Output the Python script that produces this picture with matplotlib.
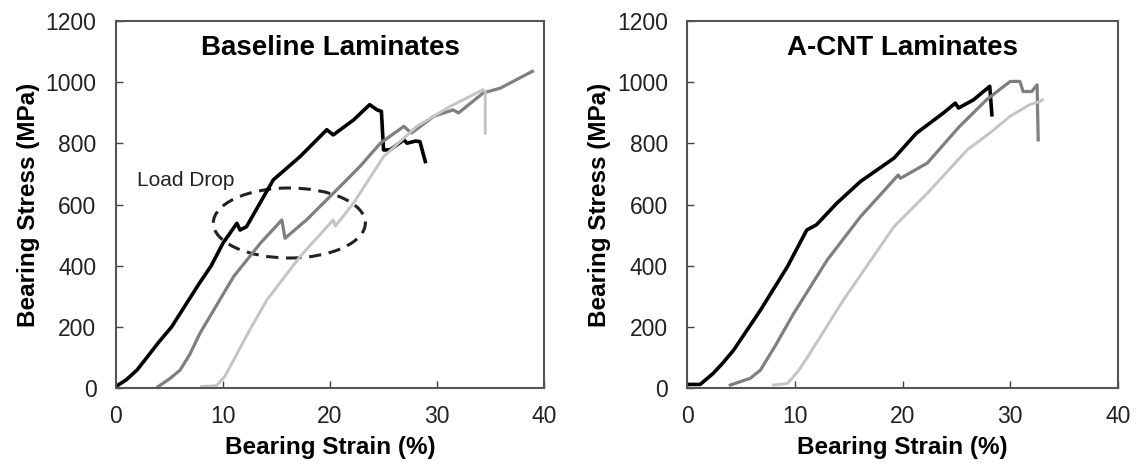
import matplotlib.pyplot as plt
from matplotlib.patches import Ellipse

plt.rcParams['font.family'] = ['Liberation Sans', 'DejaVu Sans']

# Baseline laminates (strain %, stress MPa)
base_black_x = [0, 1.0, 2.0, 3.0, 4.0, 5.2, 7.8, 8.9, 10.0, 11.3, 11.6, 12.2, 14.7, 17.2,
                19.7, 20.3, 22.2, 23.7, 24.4, 24.8, 25.0, 25.6, 26.9, 27.2, 28.0, 28.4, 28.9]
base_black_y = [5, 28, 60, 105, 150, 200, 343, 400, 474, 539, 517, 528, 681, 757,
                845, 828, 877, 927, 910, 905, 779, 779, 812, 801, 808, 806, 741]
base_dark_x = [3.95, 5.0, 6.0, 6.9, 7.85, 11.0, 13.5, 15.5, 15.8, 17.8, 20.3, 22.8, 24.7,
               26.9, 27.6, 29.7, 31.5, 32.0, 34.3, 35.9, 38.9]
base_dark_y = [5, 30, 59, 110, 179, 365, 474, 550, 490, 550, 637, 725, 801,
               856, 834, 889, 910, 900, 965, 981, 1036]
base_light_x = [8.0, 9.4, 10.2, 11.0, 12.5, 14.1, 17.2, 20.3, 20.5, 22.2, 25.0, 28.1,
                31.2, 34.3, 34.5, 34.5]
base_light_y = [5, 8, 40, 92, 190, 288, 430, 550, 530, 605, 757, 856,
                921, 976, 970, 834]

# A-CNT laminates
cnt_black_x = [0, 1.2, 2.4, 3.3, 4.3, 6.8, 9.3, 11.1, 12.0, 13.9, 16.1, 19.2, 21.3, 23.8,
               24.9, 25.2, 26.6, 28.1, 28.3]
cnt_black_y = [12, 12, 48, 82, 124, 255, 397, 517, 534, 605, 676, 752, 834, 900,
               932, 916, 943, 987, 894]
cnt_dark_x = [4.0, 5.85, 6.8, 8.2, 9.9, 13.0, 16.1, 19.6, 19.8, 22.3, 25.3, 27.8, 30.0,
              30.9, 31.2, 32.0, 32.5, 32.6]
cnt_dark_y = [10, 32, 59, 140, 245, 419, 561, 697, 686, 736, 856, 943, 1003,
              1003, 970, 970, 992, 812]
cnt_light_x = [8.0, 9.3, 10.3, 11.4, 14.5, 19.2, 22.3, 26.0, 28.1, 30.0, 31.8, 32.8, 33.0]
cnt_light_y = [10, 15, 55, 114, 288, 528, 637, 779, 834, 889, 927, 938, 943]

titles = ['Baseline Laminates', 'A-CNT Laminates']
x_ticks = [0, 10, 20, 30, 40]
y_ticks = [0, 200, 400, 600, 800, 1000, 1200]

# ellipse marking the load drop
drop_center = (16.2, 540)
drop_w = 14.2
drop_h = 229

fig = plt.figure(figsize=(11.36, 4.71), dpi=100)
ax1 = fig.add_axes([0.102, 0.176, 0.377, 0.779])
ax2 = fig.add_axes([0.605, 0.176, 0.379, 0.779])

data = [
    [(base_black_x, base_black_y), (base_dark_x, base_dark_y), (base_light_x, base_light_y)],
    [(cnt_black_x, cnt_black_y), (cnt_dark_x, cnt_dark_y), (cnt_light_x, cnt_light_y)],
]
colors = ['black', '#7f7f7f', '#c4c4c4']
widths = [2.6, 2.3, 2.1]

for ax, curves, title in zip([ax1, ax2], data, titles):
    for (xs, ys), c, lw in zip(curves, colors, widths):
        ax.plot(xs, ys, color=c, lw=lw, solid_joinstyle='round')
    ax.set_xlim(0, 40)
    ax.set_ylim(0, 1200)
    ax.set_xticks(x_ticks)
    ax.set_yticks(y_ticks)
    ax.tick_params(direction='in', length=5, width=1, colors='#444444',
                   labelcolor='#222222', labelsize=16.5)
    ax.tick_params(axis='y', pad=14)
    ax.tick_params(axis='x', pad=12)
    for s in ax.spines.values():
        s.set_color('#555555')
        s.set_linewidth(1.5)
    ax.set_xlabel('Bearing Strain (%)', fontsize=17.5, fontweight='bold', labelpad=6)
    ax.set_ylabel('Bearing Stress (MPa)', fontsize=17.5, fontweight='bold', labelpad=4)
    ax.text(20, 1113, title, ha='center', va='center', fontsize=20, fontweight='bold')

ax1.add_patch(Ellipse(drop_center, drop_w, drop_h, fill=False, ls=(0, (4, 2.5)),
                      lw=2.2, color='#222222'))
ax1.text(2.0, 680, 'Load Drop', fontsize=15, color='#222222', va='center')

fig.savefig('out.png', dpi=100)
